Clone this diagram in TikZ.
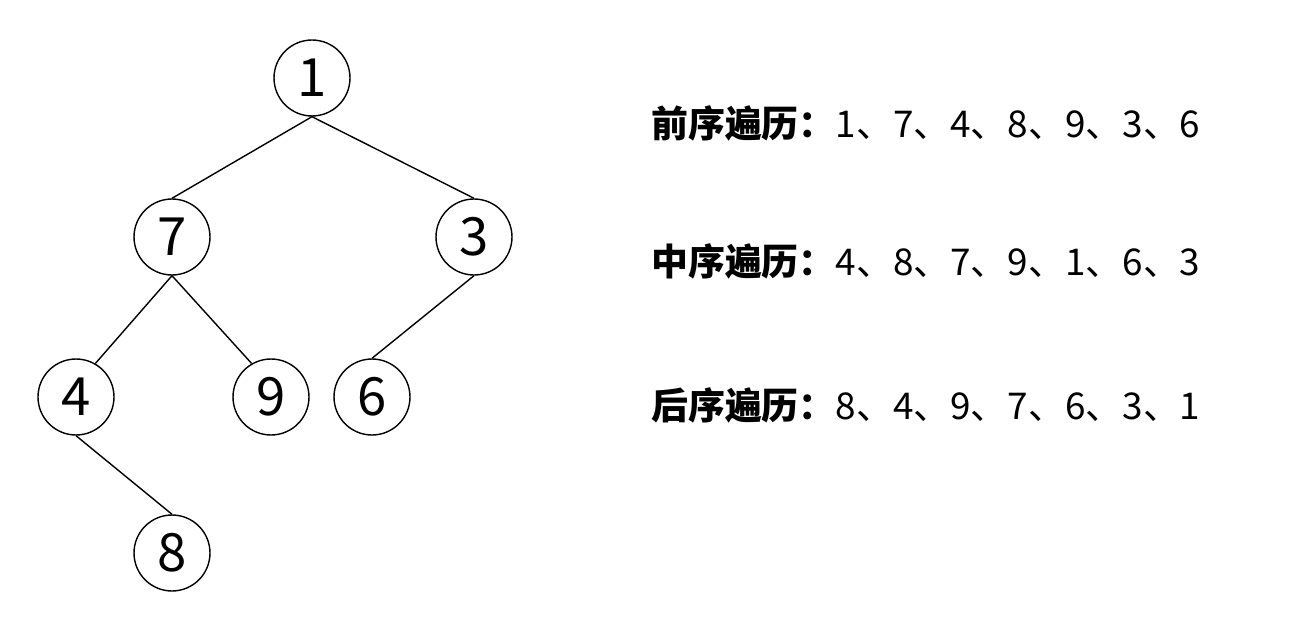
\documentclass[tikz,border=0pt]{standalone}
\usepackage{fontspec}
\setmainfont{Noto Sans CJK SC}
\usetikzlibrary{positioning}
\tikzset{
  treenode/.style={draw,circle,thick,minimum size=1.52cm,inner sep=0pt,font=\fontsize{30}{30}\selectfont},
  orderline/.style={anchor=west,font=\fontsize{21}{21}\selectfont}
}
\begin{document}
\begin{tikzpicture}[x=0.02cm,y=-0.02cm]
		\useasboundingbox (0,0) rectangle (1315,628);
		% tree
		\node[treenode] (n1) at (312,78) {1};
		\node[treenode] (n7) at (172,237) {7};
		\node[treenode] (n3) at (474,237) {3};
		\node[treenode] (n4) at (76,397) {4};
		\node[treenode] (n9) at (271,397) {9};
		\node[treenode] (n6) at (372,397) {6};
		\node[treenode] (n8) at (172,553) {8};
		%
		\path[draw,thick]
		(n1.south) -- (n7.north)
		(n1.south) -- (n3.north)
		(n7.south) -- (n4.60)
		(n7.south) -- (n9.120)
		(n3.south) -- (n6.north)
		(n4.south) -- (n8.north);
		% traversal orders
		\node[orderline] (pre) at (645,123) {\textbf{前序遍历：}1、7、4、8、9、3、6};
		\node[orderline] (in) at (645,261) {\textbf{中序遍历：}4、8、7、9、1、6、3};
		\node[orderline] (post) at (645,405) {\textbf{后序遍历：}8、4、9、7、6、3、1};
	\end{tikzpicture}
\end{document}
